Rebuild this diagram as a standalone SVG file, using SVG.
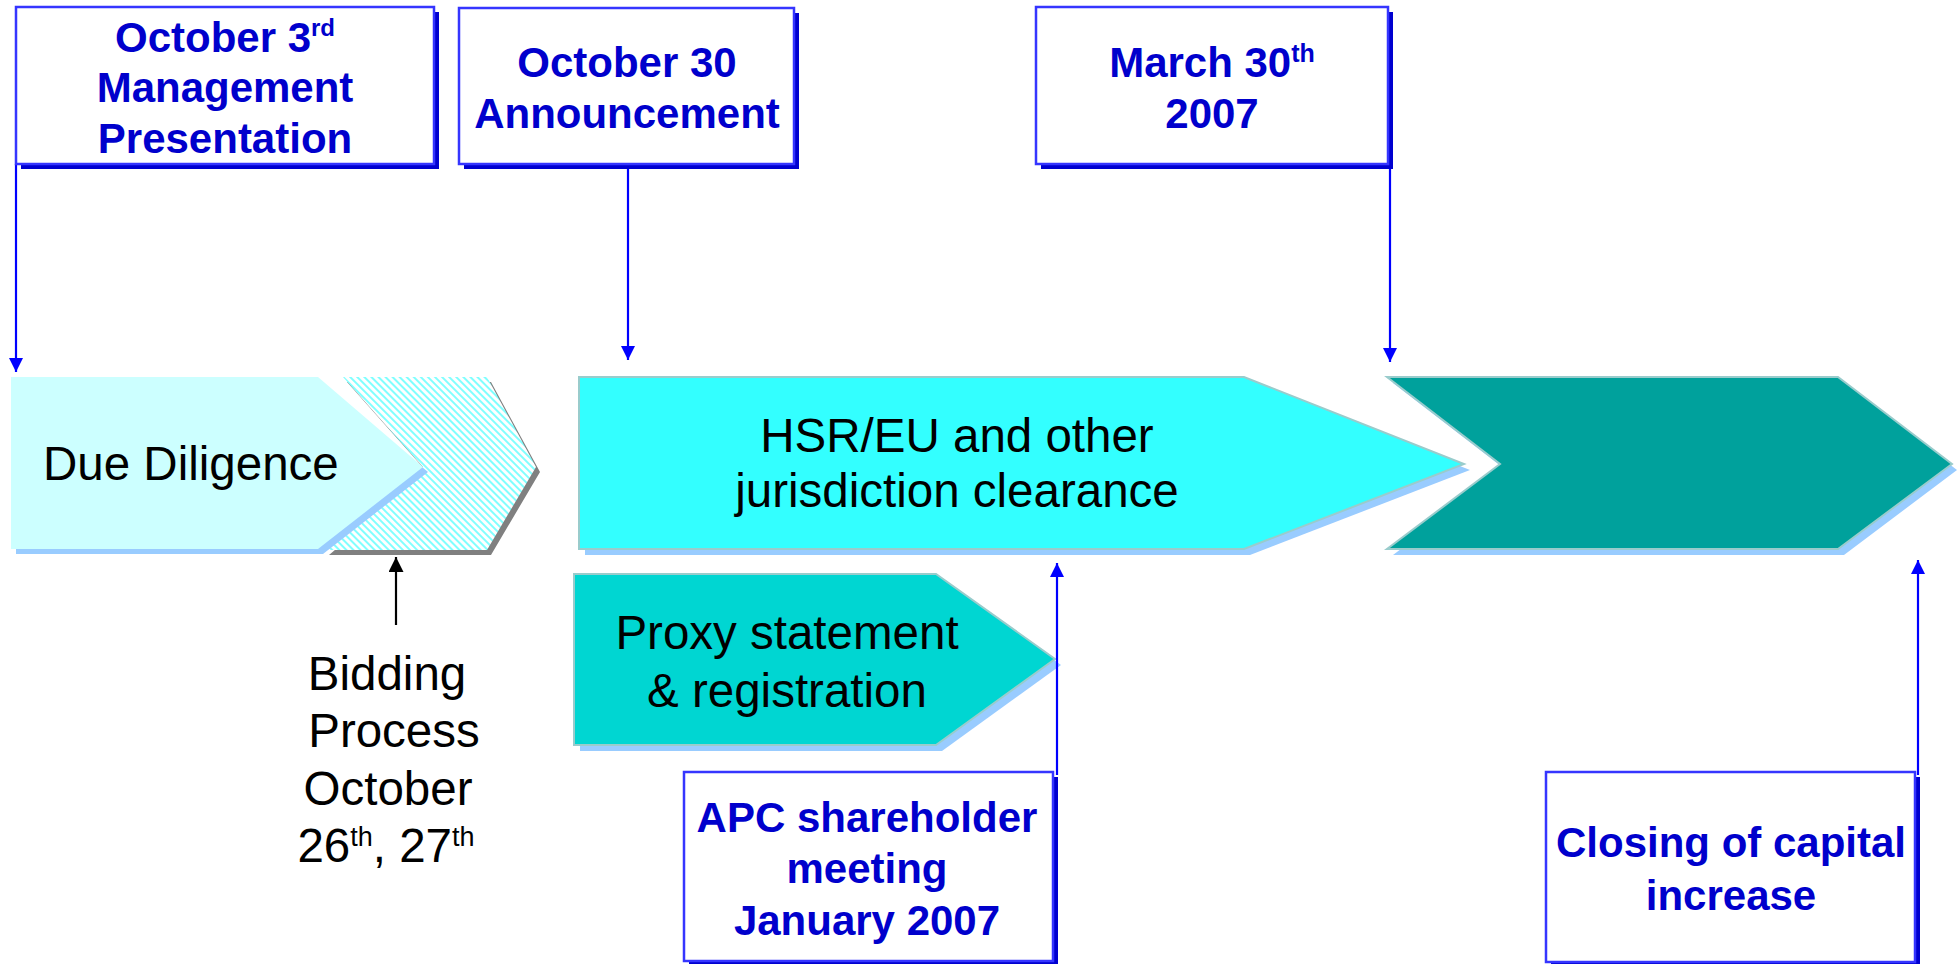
<svg xmlns="http://www.w3.org/2000/svg" width="1957" height="964" viewBox="0 0 1957 964">
<defs>
<style>
.lbl{font-family:"Liberation Sans",Arial,sans-serif;font-weight:bold;font-size:42px;fill:#0000CC;text-anchor:middle}
.body{font-family:"Liberation Sans",Arial,sans-serif;font-size:47.5px;fill:#000}
.mid{text-anchor:middle}
.box{fill:#fff;stroke:#3535FF;stroke-width:2.5}
.bshadow{fill:#0000D0}
.conn{stroke:#0000FF;stroke-width:2.2;fill:none}
.cshadow{fill:#99CCFF}
.edge{stroke:#99CCCC;stroke-width:2}
</style>
<marker id="ab" viewBox="0 0 14 14" refX="14" refY="7" markerWidth="14" markerHeight="14" markerUnits="userSpaceOnUse" orient="auto">
<path d="M0,0 L14,7 L0,14 z" fill="#0000FF"/>
</marker>
<marker id="ak" viewBox="0 0 15 15" refX="15" refY="7.5" markerWidth="15" markerHeight="15" markerUnits="userSpaceOnUse" orient="auto">
<path d="M0,0 L15,7.5 L0,15 z" fill="#000"/>
</marker>
<pattern id="hatch" width="5" height="5" patternUnits="userSpaceOnUse" patternTransform="rotate(-45)">
<rect width="5" height="5" fill="#fff"/>
<rect width="2" height="5" fill="#80FFFF"/>
</pattern>
</defs>
<rect width="1957" height="964" fill="#fff"/>

<g id="bidding-chevron">
<polygon points="347,382 491,382 540,472 491,555 329,555 427,472" fill="#808080"/>
<polygon points="343,377 487,377 536,467 487,550 325,550 423,467" fill="url(#hatch)"/>
</g>

<g id="due-diligence">
<polygon class="cshadow" points="16,383 323,383 428,472 323,554 16,554"/>
<polygon points="11,377 318,377 423,467 318,549 11,549" fill="#CCFFFF"/>
<text class="body" x="43" y="480">Due Diligence</text>
</g>

<g id="hsr-clearance">
<polygon class="cshadow" points="585,383 1250,383 1470,470 1250,555 585,555"/>
<polygon class="edge" points="579,377 1244,377 1464,464 1244,549 579,549" fill="#33FFFF"/>
<text class="body mid" x="957" y="452">HSR/EU and other</text>
<text class="body mid" x="957" y="507">jurisdiction clearance</text>
</g>

<g id="closing-chevron">
<polygon class="cshadow" points="1393,383 1844,383 1957,470 1844,555 1393,555 1506,470"/>
<polygon class="edge" points="1387,377 1838,377 1952,464 1838,549 1387,549 1500,464" fill="#00A19C"/>
</g>

<g id="proxy-statement">
<polygon class="cshadow" points="580,580 942,580 1061,665 942,751 580,751"/>
<polygon class="edge" points="574,574 936,574 1055,659 936,745 574,745" fill="#00D6D2"/>
<text class="body mid" x="787" y="649">Proxy statement</text>
<text class="body mid" x="787" y="707">&amp; registration</text>
</g>

<g id="bidding-label">
<text class="body mid" x="387" y="690">Bidding</text>
<text class="body mid" x="394" y="747">Process</text>
<text class="body mid" x="388" y="805">October</text>
<text class="body mid" x="386" y="862">26<tspan font-size="27" dy="-16">th</tspan><tspan dy="16">, 27</tspan><tspan font-size="27" dy="-16">th</tspan></text>
</g>

<g id="connectors">
<line class="conn" x1="16" y1="164" x2="16" y2="372" marker-end="url(#ab)"/>
<line class="conn" x1="628" y1="165" x2="628" y2="360" marker-end="url(#ab)"/>
<line class="conn" x1="1390" y1="165" x2="1390" y2="362" marker-end="url(#ab)"/>
<line class="conn" x1="1057" y1="775" x2="1057" y2="563" marker-end="url(#ab)"/>
<line class="conn" x1="1918" y1="775" x2="1918" y2="560" marker-end="url(#ab)"/>
<line x1="396" y1="625" x2="396" y2="557" stroke="#000" stroke-width="2.2" marker-end="url(#ak)"/>
</g>

<g id="box-oct3">
<rect class="bshadow" x="21" y="12" width="418" height="157"/>
<rect class="box" x="16" y="7" width="418" height="157"/>
<text class="lbl" x="225" y="52">October 3<tspan font-size="24" dy="-16">rd</tspan></text>
<text class="lbl" x="225" y="102">Management</text>
<text class="lbl" x="225" y="153">Presentation</text>
</g>

<g id="box-oct30">
<rect class="bshadow" x="464" y="13" width="335" height="156"/>
<rect class="box" x="459" y="8" width="335" height="156"/>
<text class="lbl" x="627" y="77">October 30</text>
<text class="lbl" x="627" y="128">Announcement</text>
</g>

<g id="box-mar30">
<rect class="bshadow" x="1041" y="12" width="352" height="157"/>
<rect class="box" x="1036" y="7" width="352" height="157"/>
<text class="lbl" x="1212" y="77">March 30<tspan font-size="25" dy="-15">th</tspan></text>
<text class="lbl" x="1212" y="128">2007</text>
</g>

<g id="box-apc">
<rect class="bshadow" x="689" y="777" width="369" height="190"/>
<rect class="box" x="684" y="772" width="369" height="189"/>
<text class="lbl" x="867" y="832">APC shareholder</text>
<text class="lbl" x="867" y="883">meeting</text>
<text class="lbl" x="867" y="935">January 2007</text>
</g>

<g id="box-closing">
<rect class="bshadow" x="1551" y="777" width="369" height="190"/>
<rect class="box" x="1546" y="772" width="369" height="190"/>
<text class="lbl" x="1731" y="857">Closing of capital</text>
<text class="lbl" x="1731" y="910">increase</text>
</g>
</svg>
